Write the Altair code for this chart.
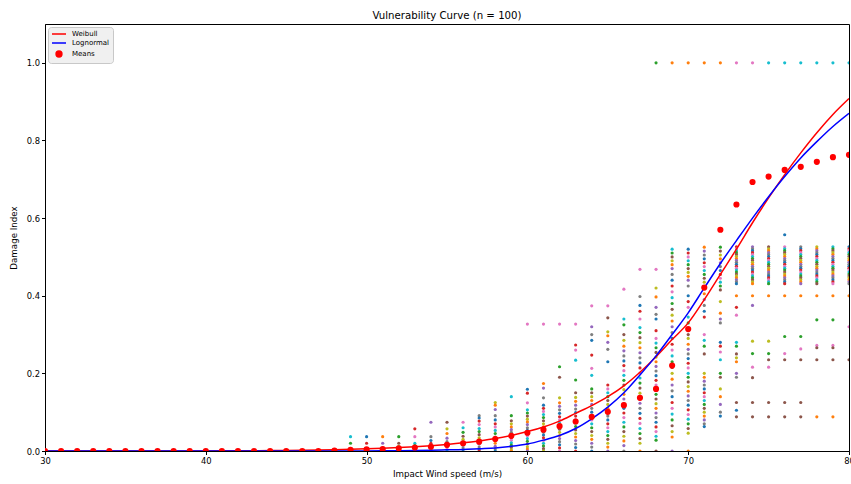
import altair as alt
import pandas as pd

TAB10 = ["#1f77b4", "#ff7f0e", "#2ca02c", "#d62728", "#9467bd",
         "#8c564b", "#e377c2", "#7f7f7f", "#bcbd22", "#17becf"]

speeds = list(range(30, 81))
weibull = [0.0, 0.0, 0.0, 0.0, 0.0, 0.0001, 0.0001, 0.0002, 0.0002, 0.0003,
           0.0003, 0.0004, 0.0006, 0.0008, 0.001, 0.0014, 0.0019, 0.0025, 0.0033, 0.0043,
           0.0055, 0.007, 0.0088, 0.011, 0.0137, 0.017, 0.021, 0.026, 0.032, 0.04,
           0.05, 0.062, 0.077, 0.097, 0.117, 0.14, 0.168, 0.203, 0.243, 0.287,
           0.33, 0.39, 0.455, 0.52, 0.588, 0.652, 0.712, 0.768, 0.82, 0.867, 0.908]
lognormal = [0.0, 0.0, 0.0, 0.0, 0.0, 0.0, 0.0, 0.0, 0.0, 0.0,
             0.0, 0.0, 0.0, 0.0, 0.0, 0.0, 0.0, 0.0, 0.0001, 0.0002,
             0.0003, 0.0005, 0.0008, 0.0012, 0.002, 0.003, 0.004, 0.006, 0.008, 0.012,
             0.018, 0.028, 0.04, 0.058, 0.083, 0.113, 0.15, 0.196, 0.245, 0.3,
             0.356, 0.42, 0.483, 0.542, 0.6, 0.655, 0.707, 0.755, 0.797, 0.836, 0.87]
means = [0.0, 0.0, 0.0, 0.0, 0.0, 0.0, 0.0, 0.0, 0.0, 0.0,
         0.0, 0.0, 0.0, 0.0, 0.0, 0.0, 0.0, 0.0, 0.001, 0.003,
         0.004, 0.005, 0.007, 0.009, 0.011, 0.016, 0.02, 0.024, 0.031, 0.039,
         0.047, 0.055, 0.064, 0.076, 0.088, 0.101, 0.118, 0.137, 0.16, 0.22,
         0.314, 0.421, 0.57, 0.635, 0.693, 0.707, 0.724, 0.732, 0.745, 0.757, 0.763]

# scattered damage values of the individual curves, per wind speed
pts_49 = [0.037, 0.02, 0.003, 0.0]
pts_50 = [0.037, 0.02, 0.004, 0.0]
pts_51 = [0.037, 0.02, 0.008, 0.0]
pts_52 = [0.037, 0.02, 0.012, 0.006, 0.0]
pts_53 = [0.057, 0.037, 0.02, 0.014, 0.008, 0.0]
pts_54 = [0.074, 0.037, 0.027, 0.02, 0.012, 0.006, 0.0]
pts_55 = [0.074, 0.057, 0.045, 0.033, 0.024, 0.017, 0.01, 0.004, 0.0]
pts_56 = [0.074, 0.06, 0.048, 0.038, 0.03, 0.022, 0.015, 0.008, 0.0]
pts_57 = [0.091, 0.085, 0.077, 0.068, 0.058, 0.05, 0.042, 0.034, 0.026, 0.018, 0.01, 0.004, 0.0]
pts_58 = [0.125, 0.118, 0.107, 0.091, 0.08, 0.07, 0.062, 0.053, 0.045, 0.036, 0.028, 0.02, 0.012, 0.005, 0.0]
pts_59 = [0.14, 0.091, 0.078, 0.07, 0.062, 0.055, 0.048, 0.041, 0.034, 0.028, 0.021, 0.015, 0.009, 0.003, 0.0]
pts_60 = [0.159, 0.149, 0.124, 0.106, 0.098, 0.09, 0.082, 0.075, 0.068, 0.06, 0.053, 0.046,
          0.039, 0.032, 0.025, 0.018, 0.011, 0.005, 0.0]
pts_61 = [0.174, 0.162, 0.137, 0.118, 0.11, 0.102, 0.094, 0.086, 0.078, 0.07, 0.062, 0.055,
          0.048, 0.041, 0.034, 0.027, 0.02, 0.013, 0.006, 0.0]
pts_62 = [0.217, 0.19, 0.137, 0.124, 0.115, 0.106, 0.097, 0.088, 0.08, 0.072, 0.064, 0.056,
          0.048, 0.04, 0.032, 0.024, 0.016, 0.008, 0.0]
pts_63 = [0.273, 0.26, 0.234, 0.183, 0.15, 0.138, 0.128, 0.118, 0.108, 0.099, 0.09, 0.081,
          0.072, 0.063, 0.054, 0.045, 0.036, 0.027, 0.018, 0.009, 0.0]
pts_64 = [0.32, 0.3, 0.285, 0.247, 0.213, 0.195, 0.16, 0.15, 0.14, 0.13, 0.12, 0.11, 0.1,
          0.09, 0.08, 0.07, 0.06, 0.05, 0.04, 0.03, 0.02, 0.01, 0.0]
pts_65 = [0.343, 0.307, 0.297, 0.28, 0.262, 0.23, 0.17, 0.16, 0.15, 0.14, 0.13, 0.12, 0.11,
          0.1, 0.09, 0.08, 0.07, 0.06, 0.05, 0.04, 0.03, 0.02, 0.01, 0.0]
pts_66 = [0.417, 0.34, 0.325, 0.3, 0.285, 0.27, 0.258, 0.245, 0.232, 0.22, 0.207, 0.195,
          0.182, 0.17, 0.158, 0.146, 0.134, 0.122, 0.11, 0.098, 0.086, 0.074, 0.062, 0.05,
          0.038, 0.026, 0.014, 0.0]
pts_67 = [0.398, 0.375, 0.36, 0.34, 0.318, 0.305, 0.292, 0.279, 0.266, 0.253, 0.24, 0.227,
          0.214, 0.201, 0.188, 0.175, 0.162, 0.149, 0.136, 0.123, 0.11, 0.097, 0.084, 0.071,
          0.058, 0.045, 0.032, 0.02, 0.0]
pts_68 = [0.42, 0.397, 0.37, 0.352, 0.34, 0.31, 0.29, 0.278, 0.266, 0.254, 0.242, 0.23,
          0.218, 0.206, 0.194, 0.182, 0.17, 0.158, 0.146, 0.134, 0.122, 0.11, 0.098, 0.086,
          0.074, 0.062, 0.05, 0.038, 0.028, 0.0]
pts_69 = [0.52, 0.51, 0.5, 0.49, 0.48, 0.47, 0.455, 0.44, 0.425, 0.41, 0.395, 0.38, 0.365,
          0.35, 0.335, 0.32, 0.305, 0.29, 0.275, 0.26, 0.245, 0.23, 0.215, 0.2, 0.185, 0.17,
          0.155, 0.14, 0.125, 0.11, 0.095, 0.08, 0.065, 0.05, 0.036, 0.0]
pts_70 = [0.52, 0.51, 0.5, 0.49, 0.48, 0.47, 0.46, 0.45, 0.44, 0.425, 0.4, 0.385, 0.37,
          0.345, 0.33, 0.3, 0.29, 0.275, 0.262, 0.25, 0.238, 0.226, 0.214, 0.2, 0.19, 0.178,
          0.166, 0.154, 0.142, 0.13, 0.118, 0.106, 0.094, 0.082, 0.07, 0.058, 0.046, 0.0]
pts_71 = [0.525, 0.515, 0.505, 0.495, 0.485, 0.475, 0.465, 0.455, 0.445, 0.435, 0.405,
          0.39, 0.375, 0.36, 0.345, 0.3, 0.285, 0.27, 0.25, 0.2, 0.19, 0.18, 0.17, 0.16,
          0.15, 0.14, 0.13, 0.12, 0.11, 0.1, 0.09, 0.08, 0.07, 0.063]
pts_72 = [0.525, 0.515, 0.505, 0.495, 0.485, 0.475, 0.465, 0.455, 0.445, 0.435, 0.425,
          0.415, 0.385, 0.355, 0.34, 0.33, 0.28, 0.27, 0.255, 0.235, 0.2, 0.19, 0.16, 0.14,
          0.12, 0.1, 0.09]
pts_73 = [0.37, 0.35, 0.28, 0.27, 0.25, 0.24, 0.23, 0.2, 0.19, 0.105]
upper_band = [0.526, 0.521, 0.516, 0.511, 0.506, 0.501, 0.496, 0.491, 0.486, 0.481,
              0.476, 0.471, 0.466, 0.461, 0.456, 0.451, 0.446, 0.441, 0.436, 0.431]

# distinct single-coloured rows (speed, damage, tab10 index)
row_speeds = [68, 69, 70, 71, 72, 73, 74, 75, 76, 77, 78, 79, 80,
              73, 74, 75, 76, 77, 78, 79, 80,
              73, 74, 75, 76, 77,
              73, 74, 75, 76, 77, 78, 79,
              75, 76, 77, 78, 79, 80,
              74, 75, 74, 75, 74, 75, 74, 74,
              76, 77, 76, 77, 78, 79, 78, 79, 78, 79, 80, 76,
              60, 61, 62, 63, 64, 65, 67, 68]
row_values = [1.0, 1.0, 1.0, 1.0, 1.0, 1.0, 1.0, 1.0, 1.0, 1.0, 1.0, 1.0, 1.0,
              0.4, 0.4, 0.4, 0.4, 0.4, 0.4, 0.4, 0.4,
              0.125, 0.125, 0.125, 0.125, 0.125,
              0.088, 0.088, 0.088, 0.088, 0.088, 0.088, 0.088,
              0.235, 0.235, 0.235, 0.235, 0.235, 0.235,
              0.216, 0.216, 0.251, 0.251, 0.283, 0.283, 0.375, 0.189,
              0.295, 0.295, 0.251, 0.263, 0.338, 0.338, 0.272, 0.272, 0.266, 0.266, 0.32, 0.557,
              0.327, 0.327, 0.327, 0.327, 0.374, 0.374, 0.468, 0.468]
row_colors = [2, 1, 1, 1, 1, 6, 6, 9, 9, 9, 9, 9, 9,
              1, 1, 1, 1, 1, 1, 1, 1,
              5, 5, 5, 5, 5,
              5, 5, 5, 5, 5, 1, 1,
              5, 5, 5, 5, 5, 5,
              6, 6, 2, 2, 8, 8, 4, 5,
              2, 2, 6, 6, 2, 2, 6, 6, 5, 5, 6, 0,
              6, 6, 6, 6, 6, 6, 6, 6]

dense = {49: pts_49, 50: pts_50, 51: pts_51, 52: pts_52, 53: pts_53, 54: pts_54,
         55: pts_55, 56: pts_56, 57: pts_57, 58: pts_58, 59: pts_59, 60: pts_60,
         61: pts_61, 62: pts_62, 63: pts_63, 64: pts_64, 65: pts_65, 66: pts_66,
         67: pts_67, 68: pts_68, 69: pts_69, 70: pts_70, 71: pts_71, 72: pts_72,
         73: upper_band + pts_73, 74: upper_band, 75: upper_band, 76: upper_band,
         77: upper_band, 78: upper_band, 79: upper_band, 80: upper_band}

rows = []
for s, vals in dense.items():
    for i, v in enumerate(vals):
        rows.append({"speed": s, "damage": v, "series": f"c{(i * 3 + s) % 10}"})
for s, v, c in zip(row_speeds, row_values, row_colors):
    rows.append({"speed": s, "damage": v, "series": f"c{c}"})
scatter_df = pd.DataFrame(rows)

curve_df = pd.DataFrame(
    [{"speed": s, "damage": v, "series": "Weibull"} for s, v in zip(speeds, weibull)]
    + [{"speed": s, "damage": v, "series": "Lognormal"} for s, v in zip(speeds, lognormal)]
)
means_df = pd.DataFrame({"speed": speeds, "damage": means, "series": "Means"})

domain = ["Weibull", "Lognormal", "Means"] + [f"c{i}" for i in range(10)]
crange = ["#ff0000", "#0000ff", "#ff0000"] + TAB10
srange = ["M-2.4,0L2.4,0", "M-2.4,0L2.4,0", "circle"] + ["circle"] * 10

color_scale = alt.Scale(domain=domain, range=crange)
shape_scale = alt.Scale(domain=domain, range=srange)
legend = alt.Legend(
    title=None, values=["Weibull", "Lognormal", "Means"], orient="top-left",
    offset=3, padding=3, fillColor="#f0f0f0", strokeColor="#c8c8c8", cornerRadius=3,
    labelFont="DejaVu Sans", labelFontSize=7, labelColor="#000000", labelOffset=9,
    symbolSize=34, symbolOffset=4, symbolStrokeWidth=1.5, rowPadding=2,
)

x = alt.X("speed:Q", scale=alt.Scale(domain=[30, 80], nice=False, zero=False),
          axis=alt.Axis(values=[30, 40, 50, 60, 70, 80], format="d", labelFlush=False,
                        title="Impact Wind speed (m/s)"))
y = alt.Y("damage:Q", scale=alt.Scale(domain=[0, 1.1], nice=False),
          axis=alt.Axis(values=[0, 0.2, 0.4, 0.6, 0.8, 1.0], format=".1f", labelFlush=False,
                        title="Damage Index"))

scatter = alt.Chart(scatter_df).mark_point(filled=True, size=10, opacity=1, clip=True).encode(
    x=x, y=y,
    color=alt.Color("series:N", scale=color_scale, legend=legend),
    shape=alt.Shape("series:N", scale=shape_scale, legend=legend),
)
lines = alt.Chart(curve_df).mark_line(strokeWidth=1.5, clip=True, interpolate="monotone").encode(
    x=x, y=y,
    color=alt.Color("series:N", scale=color_scale, legend=legend),
)
mean_pts = alt.Chart(means_df).mark_point(filled=True, size=38, opacity=1, clip=True).encode(
    x=x, y=y,
    color=alt.Color("series:N", scale=color_scale, legend=legend),
    shape=alt.Shape("series:N", scale=shape_scale, legend=legend),
)

chart = alt.layer(scatter, lines, mean_pts).properties(
    width=804, height=427,
    title=alt.Title("Vulnerability Curve (n = 100)", font="DejaVu Sans", fontSize=10.2,
                    fontWeight="normal", color="#000000", offset=3),
    autosize=alt.AutoSizeParams(type="none"),
    padding={"left": 45, "top": 24, "right": 2, "bottom": 33},
).configure_view(stroke="#000000", strokeWidth=1).configure_axis(
    grid=False, domainColor="#000000", tickColor="#000000", tickSize=3.5,
    labelFont="DejaVu Sans", labelFontSize=8.4, labelColor="#000000", labelPadding=2,
    titleFont="DejaVu Sans", titleFontSize=8.7, titleFontWeight="normal", titleColor="#000000",
).configure_axisX(titlePadding=5).configure_axisY(titlePadding=8)

chart.save("out.html", embed_options={"renderer": "svg", "actions": False})
